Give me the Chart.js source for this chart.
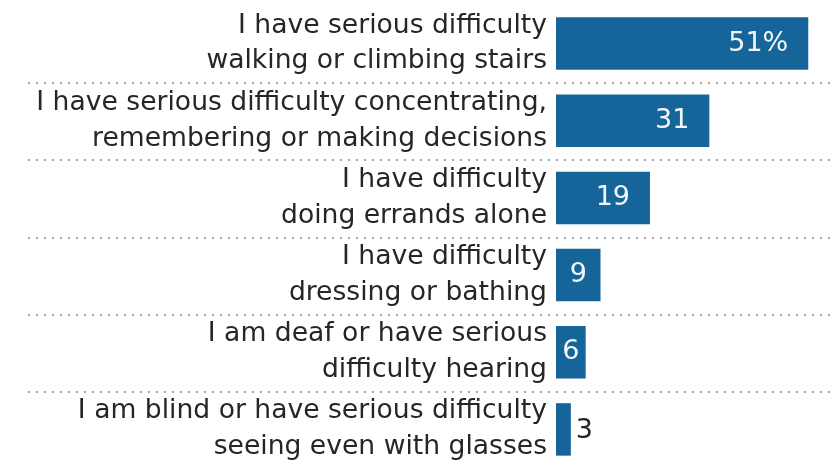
<!DOCTYPE html>
<html>
<head>
<meta charset="utf-8">
<script src="https://cdn.jsdelivr.net/npm/chart.js@4.4.1/dist/chart.umd.min.js"></script>
<style>
    html, body { margin: 0; padding: 0; background: #fff; width: 833px; height: 464px; overflow: hidden; }
    #wrap { width: 833px; height: 468px; position: relative; }
</style>
</head>
<body>
<div id="wrap"><canvas id="chart"></canvas></div>
<script>
// categories (multi-line labels) and values
const categories = [
    ['I have serious difficulty', 'walking or climbing stairs'],
    ['I have serious difficulty concentrating,', 'remembering or making decisions'],
    ['I have difficulty', 'doing errands alone'],
    ['I have difficulty', 'dressing or bathing'],
    ['I am deaf or have serious', 'difficulty hearing'],
    ['I am blind or have serious difficulty', 'seeing even with glasses']
];
const values = [51, 31, 19, 9, 6, 3];
const valueLabels = ['51%', '31', '19', '9', '6', '3'];

const BAR_COLOR = '#15659b';
const TEXT_COLOR = '#262626';

// dotted separators between rows, spanning the whole width
const separators = {
    id: 'separators',
    beforeDatasetsDraw(chart) {
        const ctx = chart.ctx;
        const y = chart.scales.y;
        ctx.save();
        ctx.fillStyle = '#a8a8a8';
        for (let i = 0; i < values.length - 1; i++) {
            const yy = Math.round((y.getPixelForValue(i) + y.getPixelForValue(i + 1)) / 2);
            for (let x = 28; x < chart.width; x += 8) {
                ctx.fillRect(x, yy, 2, 2);
            }
        }
        ctx.restore();
    }
};

// value labels: inside the bar (white) or just outside for small bars
const valueText = {
    id: 'valueText',
    afterDatasetsDraw(chart) {
        const ctx = chart.ctx;
        const meta = chart.getDatasetMeta(0);
        ctx.save();
        ctx.font = '27px "DejaVu Sans", sans-serif';
        ctx.textBaseline = 'middle';
        meta.data.forEach((bar, i) => {
            const v = values[i];
            const w = bar.x - bar.base;
            if (v < 5) {
                ctx.fillStyle = TEXT_COLOR;
                ctx.textAlign = 'left';
                ctx.fillText(valueLabels[i], bar.x + 5, bar.y + 2);
            } else if (v < 12) {
                ctx.fillStyle = '#f2f6fa';
                ctx.textAlign = 'center';
                ctx.fillText(valueLabels[i], bar.base + w / 2, bar.y);
            } else {
                ctx.fillStyle = '#f2f6fa';
                ctx.textAlign = 'right';
                ctx.fillText(valueLabels[i], bar.x - 20, bar.y);
            }
        });
        ctx.restore();
    }
};

const ctx = document.getElementById('chart').getContext('2d');
new Chart(ctx, {
    type: 'bar',
    data: {
        labels: categories,
        datasets: [{
            data: values,
            backgroundColor: BAR_COLOR,
            borderWidth: 0,
            categoryPercentage: 1,
            barPercentage: 0.68
        }]
    },
    options: {
        indexAxis: 'y',
        responsive: true,
        maintainAspectRatio: false,
        animation: false,
        layout: { padding: { top: 5, right: 0, bottom: 0, left: 0 } },
        plugins: {
            legend: { display: false },
            tooltip: { enabled: false }
        },
        scales: {
            x: {
                display: false,
                min: 0,
                max: 56
            },
            y: {
                grid: { display: false, drawTicks: false },
                border: { display: false },
                afterFit(scale) {
                    scale.width = 556;
                    // multi-line labels should not shrink the plot vertically
                    scale.paddingTop = 0;
                    scale.paddingBottom = 0;
                },
                ticks: {
                    color: TEXT_COLOR,
                    padding: 9,
                    font: { family: '"DejaVu Sans", sans-serif', size: 26.6, lineHeight: 1.35 }
                }
            }
        }
    },
    plugins: [separators, valueText]
});
</script>
</body>
</html>
